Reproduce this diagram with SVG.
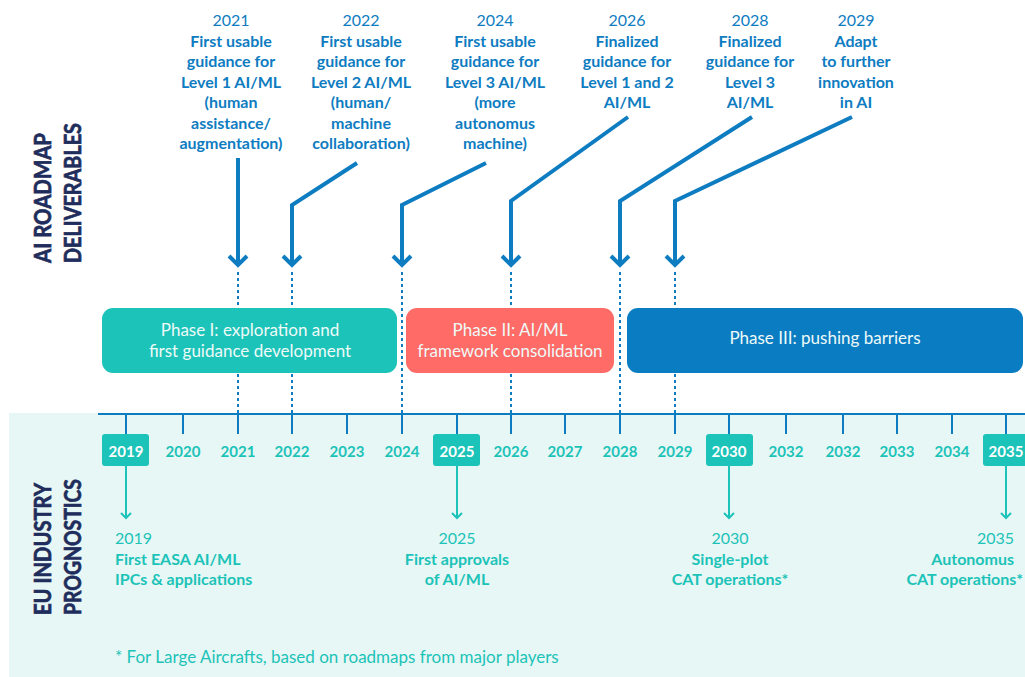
<svg xmlns="http://www.w3.org/2000/svg" width="1025" height="677" viewBox="0 0 1025 677">
<defs>
<style>
text{font-family:Lato,"Open Sans","Liberation Sans",sans-serif}
.top{fill:#0e7cc1;font-size:16px;text-anchor:middle}
.b{font-weight:bold}
.side{fill:#1f2d5c;font-size:23px;font-weight:bold;stroke:#1f2d5c;stroke-width:0.7}
.yr{fill:#1cc3b8;font-size:15px;font-weight:bold;text-anchor:middle}
.yrh{fill:#ffffff;font-size:15px;font-weight:bold;text-anchor:middle}
.bot{fill:#1cc3b8;font-size:16px}
.ph{fill:#eefaf8;font-size:17px;text-anchor:middle}
.arr{fill:none;stroke:#0e7cc1;stroke-width:4;stroke-linejoin:miter}
.dot{stroke:#0e7cc1;stroke-width:2;stroke-dasharray:3 3}
.tick{stroke:#0e7cc1;stroke-width:2}
.tl{fill:none;stroke:#1cc3b8;stroke-width:2}
.hb{fill:#1cc3b8}
</style>
</defs>
<rect x="9" y="413" width="1016" height="264" fill="#e7f7f6"/>
<g id="labels-side">
<text class="side" transform="translate(51,263) rotate(-90)" textLength="130" lengthAdjust="spacingAndGlyphs">AI ROADMAP</text>
<text class="side" transform="translate(81,263) rotate(-90)" textLength="140" lengthAdjust="spacingAndGlyphs">DELIVERABLES</text>
<text class="side" transform="translate(51,615) rotate(-90)" textLength="132" lengthAdjust="spacingAndGlyphs">EU INDUSTRY</text>
<text class="side" transform="translate(81,615) rotate(-90)" textLength="136" lengthAdjust="spacingAndGlyphs">PROGNOSTICS</text>
</g>
<g id="connectors">
<line class="dot" x1="238" y1="272" x2="238" y2="413"/>
<line class="dot" x1="292" y1="272" x2="292" y2="413"/>
<line class="dot" x1="402" y1="272" x2="402" y2="413"/>
<line class="dot" x1="511" y1="272" x2="511" y2="413"/>
<line class="dot" x1="620" y1="272" x2="620" y2="413"/>
<line class="dot" x1="675" y1="272" x2="675" y2="413"/>
<path class="arr" d="M238 158 V265 M229 256 L238 265 L247 256"/>
<path class="arr" d="M357 163 L292 205 V265 M283 256 L292 265 L301 256"/>
<path class="arr" d="M486 163 L402 205 V265 M393 256 L402 265 L411 256"/>
<path class="arr" d="M628 117 L511 201 V265 M502 256 L511 265 L520 256"/>
<path class="arr" d="M752 117 L620 201 V265 M611 256 L620 265 L629 256"/>
<path class="arr" d="M852 117 L675 201 V265 M666 256 L675 265 L684 256"/>
<line x1="98" y1="414" x2="1025" y2="414" stroke="#0e7cc1" stroke-width="2"/>
<g>
<line class="tick" x1="126" y1="414" x2="126" y2="434"/>
<line class="tick" x1="183" y1="414" x2="183" y2="434"/>
<line class="tick" x1="238" y1="414" x2="238" y2="434"/>
<line class="tick" x1="292" y1="414" x2="292" y2="434"/>
<line class="tick" x1="347" y1="414" x2="347" y2="434"/>
<line class="tick" x1="402" y1="414" x2="402" y2="434"/>
<line class="tick" x1="457" y1="414" x2="457" y2="434"/>
<line class="tick" x1="511" y1="414" x2="511" y2="434"/>
<line class="tick" x1="565" y1="414" x2="565" y2="434"/>
<line class="tick" x1="620" y1="414" x2="620" y2="434"/>
<line class="tick" x1="675" y1="414" x2="675" y2="434"/>
<line class="tick" x1="729" y1="414" x2="729" y2="434"/>
<line class="tick" x1="786" y1="414" x2="786" y2="434"/>
<line class="tick" x1="843" y1="414" x2="843" y2="434"/>
<line class="tick" x1="897" y1="414" x2="897" y2="434"/>
<line class="tick" x1="952" y1="414" x2="952" y2="434"/>
<line class="tick" x1="1006" y1="414" x2="1006" y2="434"/>
</g>
<path class="tl" d="M126 466 V518 M121 513 L126 518 L131 513"/>
<path class="tl" d="M457 466 V518 M452 513 L457 518 L462 513"/>
<path class="tl" d="M729 466 V518 M724 513 L729 518 L734 513"/>
<path class="tl" d="M1006 466 V518 M1001 513 L1006 518 L1011 513"/>
</g>
<g id="d2021">
<text class="top" y="26"><tspan x="231">2021</tspan><tspan class="b" x="231" dy="20.5">First usable</tspan><tspan class="b" x="231" dy="20.5">guidance for</tspan><tspan class="b" x="231" dy="20.5">Level 1 AI/ML</tspan><tspan class="b" x="231" dy="20.5">(human</tspan><tspan class="b" x="231" dy="20.5">assistance/</tspan><tspan class="b" x="231" dy="20.5">augmentation)</tspan></text>
</g>
<g id="d2022">
<text class="top" y="26"><tspan x="361">2022</tspan><tspan class="b" x="361" dy="20.5">First usable</tspan><tspan class="b" x="361" dy="20.5">guidance for</tspan><tspan class="b" x="361" dy="20.5">Level 2 AI/ML</tspan><tspan class="b" x="361" dy="20.5">(human/</tspan><tspan class="b" x="361" dy="20.5">machine</tspan><tspan class="b" x="361" dy="20.5">collaboration)</tspan></text>
</g>
<g id="d2024">
<text class="top" y="26"><tspan x="495">2024</tspan><tspan class="b" x="495" dy="20.5">First usable</tspan><tspan class="b" x="495" dy="20.5">guidance for</tspan><tspan class="b" x="495" dy="20.5">Level 3 AI/ML</tspan><tspan class="b" x="495" dy="20.5">(more</tspan><tspan class="b" x="495" dy="20.5">autonomus</tspan><tspan class="b" x="495" dy="20.5">machine)</tspan></text>
</g>
<g id="d2026">
<text class="top" y="26"><tspan x="627">2026</tspan><tspan class="b" x="627" dy="20.5">Finalized</tspan><tspan class="b" x="627" dy="20.5">guidance for</tspan><tspan class="b" x="627" dy="20.5">Level 1 and 2</tspan><tspan class="b" x="627" dy="20.5">AI/ML</tspan></text>
</g>
<g id="d2028">
<text class="top" y="26"><tspan x="750">2028</tspan><tspan class="b" x="750" dy="20.5">Finalized</tspan><tspan class="b" x="750" dy="20.5">guidance for</tspan><tspan class="b" x="750" dy="20.5">Level 3</tspan><tspan class="b" x="750" dy="20.5">AI/ML</tspan></text>
</g>
<g id="d2029">
<text class="top" y="26"><tspan x="856">2029</tspan><tspan class="b" x="856" dy="20.5">Adapt</tspan><tspan class="b" x="856" dy="20.5">to further</tspan><tspan class="b" x="856" dy="20.5">innovation</tspan><tspan class="b" x="856" dy="20.5">in AI</tspan></text>
</g>
<g id="phase1">
<rect x="102" y="308" width="295" height="65" rx="11" fill="#1cc3b8"/>
<text class="ph" x="250" y="336">Phase I: exploration and</text>
<text class="ph" x="250" y="357">first guidance development</text>
</g>
<g id="phase2">
<rect x="406" y="308" width="208" height="65" rx="11" fill="#ff6b66"/>
<text class="ph" x="510" y="336">Phase II: AI/ML</text>
<text class="ph" x="510" y="357">framework consolidation</text>
</g>
<g id="phase3">
<rect x="627" y="308" width="396" height="65" rx="11" fill="#0a7dc2"/>
<text class="ph" x="825" y="344">Phase III: pushing barriers</text>
</g>
<g id="years">
<rect class="hb" x="102" y="434" width="47" height="32" rx="3"/>
<rect class="hb" x="433" y="434" width="47" height="32" rx="3"/>
<rect class="hb" x="706" y="434" width="47" height="32" rx="3"/>
<rect class="hb" x="983" y="434" width="47" height="32" rx="3"/>
<text class="yrh" x="126" y="457">2019</text>
<text class="yr" x="183" y="457">2020</text>
<text class="yr" x="238" y="457">2021</text>
<text class="yr" x="292" y="457">2022</text>
<text class="yr" x="347" y="457">2023</text>
<text class="yr" x="402" y="457">2024</text>
<text class="yrh" x="457" y="457">2025</text>
<text class="yr" x="511" y="457">2026</text>
<text class="yr" x="565" y="457">2027</text>
<text class="yr" x="620" y="457">2028</text>
<text class="yr" x="675" y="457">2029</text>
<text class="yrh" x="729" y="457">2030</text>
<text class="yr" x="786" y="457">2032</text>
<text class="yr" x="843" y="457">2032</text>
<text class="yr" x="897" y="457">2033</text>
<text class="yr" x="952" y="457">2034</text>
<text class="yrh" x="1006" y="457">2035</text>
</g>
<g id="p2019">
<text class="bot" x="115" y="544">2019</text>
<text class="bot b" x="115" y="565">First EASA AI/ML</text>
<text class="bot b" x="115" y="585">IPCs &amp; applications</text>
</g>
<g id="p2025">
<text class="bot" x="457" y="544" text-anchor="middle">2025</text>
<text class="bot b" x="457" y="565" text-anchor="middle">First approvals</text>
<text class="bot b" x="457" y="585" text-anchor="middle">of AI/ML</text>
</g>
<g id="p2030">
<text class="bot" x="730" y="544" text-anchor="middle">2030</text>
<text class="bot b" x="730" y="565" text-anchor="middle">Single-plot</text>
<text class="bot b" x="730" y="585" text-anchor="middle">CAT operations*</text>
</g>
<g id="p2035">
<text class="bot" x="1014" y="544" text-anchor="end">2035</text>
<text class="bot b" x="1014" y="565" text-anchor="end">Autonomus</text>
<text class="bot b" x="1023" y="585" text-anchor="end">CAT operations*</text>
</g>
<text class="bot" x="115" y="663" style="font-size:17px">* For Large Aircrafts, based on roadmaps from major players</text>
</svg>
